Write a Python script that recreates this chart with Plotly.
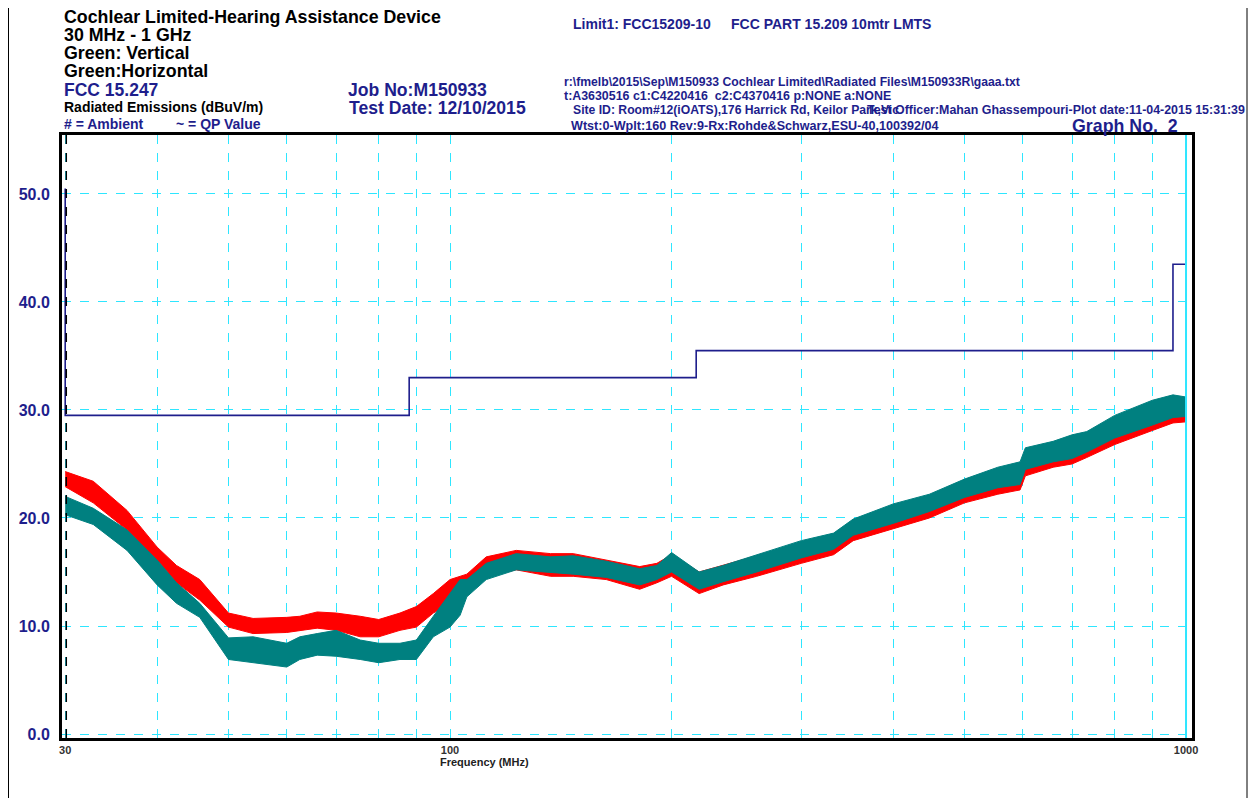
import numpy as np
import plotly.graph_objects as go

# ---------------- data ----------------
red_freq = [30, 32.75, 36.4, 40, 42.5, 45.7, 50, 54, 60, 62.5, 66, 70, 75.5, 80, 85.5, 90, 94.9,
            100, 105.4, 112, 123, 137, 147, 163, 181, 191, 200, 218, 235, 261, 300, 332, 353,
            400, 448, 500, 555, 595, 605, 660, 700, 733, 800, 900, 960, 1000]
red_upper = [24.3, 23.4, 20.7, 17.3, 15.6, 14.3, 11.2, 10.7, 10.8, 10.9, 11.3, 11.2, 10.9, 10.6, 11.2, 11.8, 13.0,
             14.3, 14.8, 16.4, 17.0, 16.7, 16.7, 16.1, 15.5, 15.8, 16.6, 15.0, 15.6, 16.5, 17.7, 18.4, 19.6,
             21.0, 22.0, 23.4, 24.3, 24.9, 25.9, 26.6, 27.2, 27.6, 28.8, 30.3, 30.8, 31.0]
red_lower = [22.9, 21.4, 18.9, 16.1, 14.0, 12.4, 9.9, 9.3, 9.4, 9.6, 9.8, 9.6, 9.0, 9.0, 9.6, 9.9, 11.2,
             12.1, 13.3, 14.6, 15.2, 14.6, 14.6, 14.3, 13.4, 14.0, 14.6, 13.0, 13.8, 14.6, 15.8, 16.6, 17.9,
             19.0, 20.0, 21.4, 22.2, 22.6, 23.9, 24.7, 25.0, 25.6, 26.8, 28.1, 28.8, 28.9]

teal_freq = [30, 32.75, 36.4, 40, 42.5, 45.7, 50, 54, 60, 62.5, 66, 70, 75.5, 80, 85.5, 90, 94.9,
             100, 103.2, 105.4, 112, 123, 137, 147, 163, 181, 191, 200, 218, 235, 261, 300, 332, 353,
             400, 448, 500, 555, 595, 605, 660, 700, 733, 800, 900, 960, 1000]
teal_upper = [22.0, 20.9, 18.9, 16.1, 14.0, 12.1, 8.9, 9.0, 8.4, 9.0, 9.3, 9.6, 8.7, 8.4, 8.4, 8.7, 10.9,
              13.0, 14.3, 14.3, 15.8, 16.7, 16.4, 16.5, 16.0, 15.3, 15.6, 16.8, 15.0, 15.6, 16.6, 17.9, 18.6, 19.9,
              21.3, 22.2, 23.6, 24.7, 25.2, 26.5, 27.1, 27.7, 28.0, 29.5, 30.9, 31.4, 31.2]
teal_lower = [20.3, 19.4, 17.0, 13.8, 12.1, 10.8, 6.9, 6.6, 6.2, 6.9, 7.3, 7.2, 6.9, 6.6, 6.9, 6.9, 9.0,
              9.9, 11.0, 12.7, 14.3, 15.2, 15.0, 14.8, 14.5, 13.8, 14.3, 15.0, 13.4, 14.1, 15.0, 16.3, 17.1, 18.4,
              19.5, 20.6, 21.9, 22.8, 23.1, 24.5, 25.2, 25.5, 26.1, 27.4, 28.6, 29.3, 29.4]

limit_freq = [30, 30, 88, 216, 960, 1000]
limit_db = [50.5, 29.5, 33.0, 35.5, 43.5, 43.5]

x_major = [30, 100, 1000]
x_major_text = ["30", "100", "1000"]
x_minor = [40, 50, 60, 70, 80, 90, 200, 300, 400, 500, 600, 700, 800, 900]
y_ticks = [0, 10, 20, 30, 40, 50]
y_tick_text = ["0.0", "10.0", "20.0", "30.0", "40.0", "50.0"]

# ---------------- styling ----------------
OFF = 8  # browser body margin
W, H = 1257 - OFF, 798 - OFF
L, R, T, B = 62 - OFF, 1192 - OFF, 135 - OFF, 738 - OFF
NAVY = "#1E1E8C"
CYAN = "#2EE6FF"
RED = "#FF0000"
TEAL = "#008080"
FONT = "Liberation Sans"

fig = go.Figure()

# red band
fig.add_trace(go.Scatter(x=red_freq, y=red_lower, mode="lines", line=dict(color=RED, width=1),
                         hoverinfo="skip", showlegend=False))
fig.add_trace(go.Scatter(x=red_freq, y=red_upper, mode="lines", line=dict(color=RED, width=1),
                         fill="tonexty", fillcolor=RED, showlegend=False))
# teal band
fig.add_trace(go.Scatter(x=teal_freq, y=teal_lower, mode="lines", line=dict(color=TEAL, width=1),
                         hoverinfo="skip", showlegend=False))
fig.add_trace(go.Scatter(x=teal_freq, y=teal_upper, mode="lines", line=dict(color=TEAL, width=1),
                         fill="tonexty", fillcolor=TEAL, showlegend=False))
# limit line
fig.add_trace(go.Scatter(x=limit_freq, y=limit_db, mode="lines", line=dict(color=NAVY, width=1.6, shape="hv"),
                         showlegend=False))

fig.update_xaxes(type="log", range=[np.log10(29.7), np.log10(1018.9)],
                 tickvals=x_major, ticktext=["<b>%s</b>" % t for t in x_major_text],
                 tickfont=dict(family=FONT, size=11, color="#333333"),
                 showgrid=True, gridcolor=CYAN, griddash="dash", gridwidth=1.3,
                 minor=dict(tickvals=x_minor, showgrid=True, gridcolor=CYAN, griddash="dash", gridwidth=1.3),
                 showline=True, linecolor="black", linewidth=3, mirror=True,
                 ticks="", zeroline=False)
fig.update_yaxes(range=[-0.37, 55.46], tickvals=y_ticks, ticktext=["<b>%s</b>" % t for t in y_tick_text],
                 tickfont=dict(family=FONT, size=16, color=NAVY),
                 showgrid=True, gridcolor=CYAN, griddash="dash", gridwidth=1.3,
                 showline=True, linecolor="black", linewidth=3, mirror=True,
                 ticks="", zeroline=False, ticklabelstandoff=6)


def px(x):
    # page x (pixels) -> paper
    return (x - OFF - L) / (R - L)


def py(y):
    # page y (pixels) -> paper
    return (B - (y - OFF)) / (B - T)


annots = []


def text(s, x, y, size, color="black", bold=True, anchor="left"):
    if bold:
        s = "<b>%s</b>" % s
    annots.append(dict(text=s, x=px(x), y=py(y), xref="paper", yref="paper",
                       xanchor=anchor, yanchor="middle", showarrow=False, borderpad=0,
                       font=dict(family=FONT, size=size, color=color)))


text("Cochlear Limited-Hearing Assistance Device", 63, 17.3, 17.8)
text("30 MHz - 1 GHz", 63, 35, 17.8)
text("Green: Vertical", 63, 53, 17.8)
text("Green:Horizontal", 63, 71, 17.8)
text("FCC 15.247", 63, 90, 17.5, NAVY)
text("Radiated Emissions (dBuV/m)", 63, 106.5, 14, "black")
text("# = Ambient", 63, 124, 14, NAVY)
text("~ = QP Value", 175, 124, 14, NAVY)
text("Job No:M150933", 347, 90.3, 17.6, NAVY)
text("Test Date: 12/10/2015", 348, 108.3, 17.6, NAVY)
text("Limit1: FCC15209-10", 572, 24, 14, NAVY)
text("FCC PART 15.209 10mtr LMTS", 730, 24, 14, NAVY)
text("r:\\fmelb\\2015\\Sep\\M150933 Cochlear Limited\\Radiated Files\\M150933R\\gaaa.txt", 563, 82, 12.2, NAVY)
text("t:A3630516 c1:C4220416  c2:C4370416 p:NONE a:NONE", 563, 96, 12.4, NAVY)
text("Site ID: Room#12(iOATS),176 Harrick Rd, Keilor Park,Vic", 572, 110, 12.2, NAVY)
text("Test Officer:Mahan Ghassempouri-Plot date:11-04-2015 15:31:39", 866, 110, 12.4, NAVY)
text("Wtst:0-Wplt:160 Rev:9-Rx:Rohde&amp;Schwarz,ESU-40,100392/04", 570, 126, 12.6, NAVY)
text("Graph No.  2", 1071, 126, 17.8, NAVY)
text("Frequency (MHz)", 484, 762, 11, "#222222", anchor="center")

shapes = [
    # dashed black line at 30 MHz
    dict(type="line", xref="x", yref="paper", x0=30.1, x1=30.1, y0=0, y1=1,
         line=dict(color="black", width=1.5, dash="dash")),
    # solid cyan line at 1000 MHz
    dict(type="line", xref="x", yref="paper", x0=1000, x1=1000, y0=0, y1=1,
         line=dict(color=CYAN, width=2)),
    # page frame (left and right edges)
    dict(type="line", xref="paper", yref="paper", x0=px(8.5), x1=px(8.5), y0=py(805), y1=py(0),
         line=dict(color="black", width=1)),
    dict(type="line", xref="paper", yref="paper", x0=px(1247), x1=px(1247), y0=py(805), y1=py(0),
         line=dict(color="black", width=1)),
]

fig.update_layout(width=W, height=H, margin=dict(l=L, r=W - R, t=T, b=H - B),
                  paper_bgcolor="white", plot_bgcolor="white",
                  annotations=annots, shapes=shapes, showlegend=False,
                  font=dict(family=FONT))

fig.write_html("out.html")
